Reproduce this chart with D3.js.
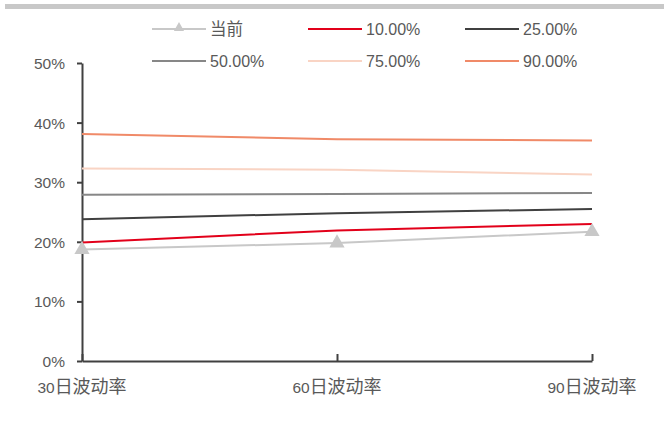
<!DOCTYPE html>
<html>
<head>
<meta charset="utf-8">
<script src="https://cdn.jsdelivr.net/npm/d3@7"></script>
<style>
	body { margin: 0; background: #fff; }
	svg { display: block; font-family: "Liberation Sans", Arial, sans-serif; }
	.cjk { font-family: "Noto Sans CJK SC", sans-serif; }
</style>
</head>
<body>
<svg id="chart" width="664" height="427"></svg>
<script>
// x categories
const categories = ["30日波动率", "60日波动率", "90日波动率"];
// series names and values (%)
const seriesNames = ["当前", "10.00%", "25.00%", "50.00%", "75.00%", "90.00%"];
const current = [18.7, 19.8, 21.7];
const p10 = [19.9, 21.9, 23.0];
const p25 = [23.8, 24.8, 25.5];
const p50 = [27.9, 28.0, 28.2];
const p75 = [32.3, 32.1, 31.3];
const p90 = [38.1, 37.2, 37.0];
const yTicks = [0, 10, 20, 30, 40, 50];

const colors = ["#c8c8c8", "#e2001a", "#404040", "#878787", "#f9d4c4", "#f08a68"];
const allSeries = [current, p10, p25, p50, p75, p90];
const textColor = "#595959";

const svg = d3.select("#chart");

// top grey band
svg.append("rect").attr("x", 5).attr("y", 4).attr("width", 659).attr("height", 5).attr("fill", "#c8c8c8");

const xScale = d3.scalePoint().domain(categories).range([82, 592]);
const yScale = d3.scaleLinear().domain([0, 50]).range([361, 63]);

//y axis
const yAxis = svg.append("g").attr("class", "yAxis")
	.attr("transform", "translate(" + [82, 0] + ")")
	.call(d3.axisLeft(yScale).tickValues(yTicks).tickSize(5).tickSizeOuter(0).tickFormat(function(d){ return d + "%"; }));
yAxis.select(".domain").attr("stroke", "#404040").attr("stroke-width", 2);
yAxis.selectAll(".tick line").attr("stroke", "#404040").attr("stroke-width", 2);
yAxis.selectAll(".tick text").attr("fill", textColor).attr("font-size", 15.5).attr("x", -17).attr("dy", "0.35em");

//x axis, ticks pointing up
const xAxis = svg.append("g").attr("class", "xAxis")
	.attr("transform", "translate(" + [0, 361] + ")")
	.call(d3.axisBottom(xScale).tickSize(-7).tickSizeOuter(0).tickFormat(""));
xAxis.select(".domain").attr("stroke", "#404040").attr("stroke-width", 2);
xAxis.selectAll(".tick line").attr("stroke", "#404040").attr("stroke-width", 2);

//x labels with CJK part slightly bigger
categories.forEach(function(c){
	const t = svg.append("text").attr("x", xScale(c)).attr("y", 393)
		.attr("text-anchor", "middle").attr("fill", textColor);
	t.append("tspan").attr("font-size", 15.5).text(c.slice(0, 2));
	t.append("tspan").attr("class", "cjk").attr("font-size", 18).text(c.slice(2));
});

//lines
const line = d3.line()
	.x(function(d, i){ return xScale(categories[i]); })
	.y(function(d){ return yScale(d); });

for (let s = allSeries.length - 1; s >= 0; s--) {
	svg.append("path").datum(allSeries[s])
		.attr("d", line)
		.attr("fill", "none")
		.attr("stroke", colors[s])
		.attr("stroke-width", 2);
}

//markers for current
const tri = d3.symbol().type(d3.symbolTriangle).size(100);
svg.selectAll(".marker").data(current).enter().append("path")
	.attr("class", "marker")
	.attr("d", tri)
	.attr("transform", function(d, i){ return "translate(" + [xScale(categories[i]), yScale(d)] + ")"; })
	.attr("fill", "#c8c8c8");

//legend
const legX = [152, 308, 465];
const legY = [29, 61];
seriesNames.forEach(function(name, i){
	const x = legX[i % 3], y = legY[Math.floor(i / 3)];
	svg.append("line").attr("x1", x).attr("x2", x + 54).attr("y1", y).attr("y2", y)
		.attr("stroke", colors[i]).attr("stroke-width", 2);
	if (i === 0) {
		svg.append("path").attr("d", d3.symbol().type(d3.symbolTriangle).size(45))
			.attr("transform", "translate(" + [x + 27, y - 1] + ")").attr("fill", colors[i]);
	}
	const t = svg.append("text").attr("x", x + 58).attr("y", y).attr("dy", "0.35em")
		.attr("fill", textColor);
	if (i === 0) t.attr("class", "cjk").attr("font-size", 16.5).text(name);
	else t.attr("font-size", 16).text(name);
});
</script>
</body>
</html>
